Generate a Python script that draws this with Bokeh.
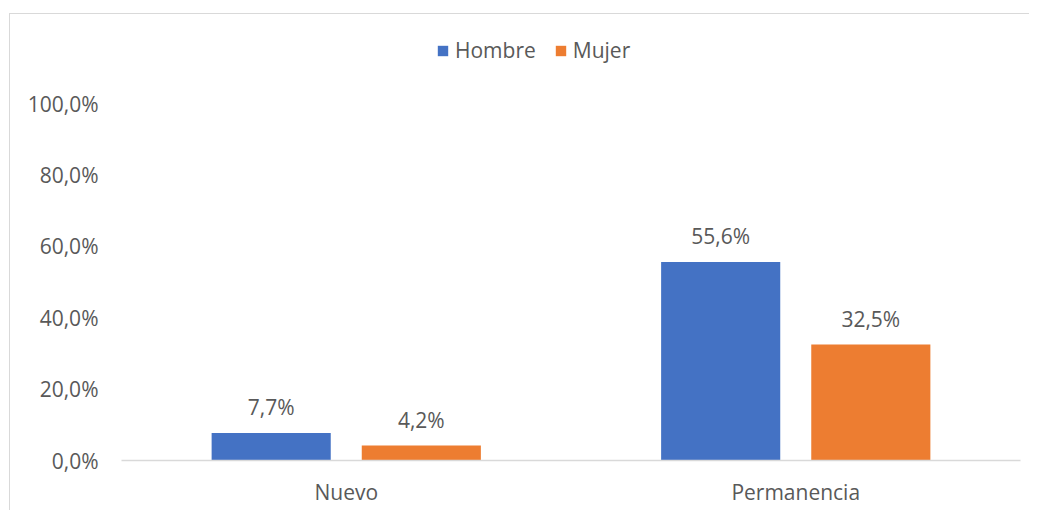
from bokeh.plotting import figure
from bokeh.models import FactorRange, Range1d, FixedTicker, ColumnDataSource, LabelSet, Legend, LegendItem, CustomJSTickFormatter
from bokeh.transform import dodge
from bokeh.embed import file_html
from bokeh.resources import INLINE
from bokeh.core.properties import value

categories = ["Nuevo", "Permanencia"]
hombre = [7.7, 55.6]
mujer = [4.2, 32.5]
series_names = ["Hombre", "Mujer"]
y_ticks = [0, 20, 40, 60, 80, 100]

FONT = "Open Sans"
TXT = "#595959"
FS = "21px"

def fmt(v):
    return f"{v:.1f}%".replace(".", ",")

src = ColumnDataSource(dict(
    cat=categories, hombre=hombre, mujer=mujer,
    hl=[fmt(v) for v in hombre], ml=[fmt(v) for v in mujer],
))

p = figure(x_range=FactorRange(*categories, range_padding=0),
           y_range=Range1d(0, 122.47),
           width=1020, height=497, output_backend="svg", toolbar_location=None,
           min_border_left=111, min_border_right=10, min_border_top=9, min_border_bottom=51)
p.margin = (13, 0, 0, 9)
p.styles = {"border-top": "1px solid #d9d9d9", "border-left": "1px solid #d9d9d9", "box-sizing": "border-box"}
p.outline_line_color = None
p.background_fill_color = "white"
p.border_fill_color = "white"
p.grid.visible = False

r1 = p.vbar(x=dodge("cat", -0.167, range=p.x_range), top="hombre", width=0.265,
            source=src, color="#4472C4", line_color=None)
r2 = p.vbar(x=dodge("cat", 0.167, range=p.x_range), top="mujer", width=0.265,
            source=src, color="#ED7D31", line_color=None)

for col, lab, off in (("hombre", "hl", -0.167), ("mujer", "ml", 0.167)):
    ls = LabelSet(x=dodge("cat", off, range=p.x_range), y=col, text=lab, source=src,
                  text_align="center", text_baseline="alphabetic", y_offset=18,
                  text_font=value(FONT), text_font_size=FS, text_color=TXT)
    p.add_layout(ls)

p.yaxis.ticker = FixedTicker(ticks=y_ticks)
p.yaxis.formatter = CustomJSTickFormatter(code="return tick.toFixed(1).replace('.', ',') + '%';")
p.yaxis.axis_line_color = None
p.yaxis.major_tick_line_color = None
p.yaxis.minor_tick_line_color = None
p.yaxis.major_label_standoff = 17
p.yaxis.major_label_text_font = FONT
p.yaxis.major_label_text_font_size = FS
p.yaxis.major_label_text_color = TXT

p.xaxis.axis_line_color = "#d9d9d9"
p.xaxis.axis_line_width = 1.5
p.xaxis.major_tick_line_color = None
p.xaxis.minor_tick_line_color = None
p.xaxis.major_label_standoff = 11
p.xaxis.major_label_text_font = FONT
p.xaxis.major_label_text_font_size = FS
p.xaxis.major_label_text_color = TXT

legend = Legend(items=[LegendItem(label=series_names[0], renderers=[r1]),
                       LegendItem(label=series_names[1], renderers=[r2])],
                location=(315, 396), orientation="horizontal")
legend.glyph_width = 13
legend.glyph_height = 13
legend.label_standoff = 6
legend.spacing = 18
legend.padding = 0
legend.margin = 0
legend.border_line_color = None
legend.background_fill_alpha = 0
legend.label_text_font = FONT
legend.label_text_font_size = FS
legend.label_text_color = TXT
p.add_layout(legend)

open("out.html", "w").write(file_html(p, INLINE))
